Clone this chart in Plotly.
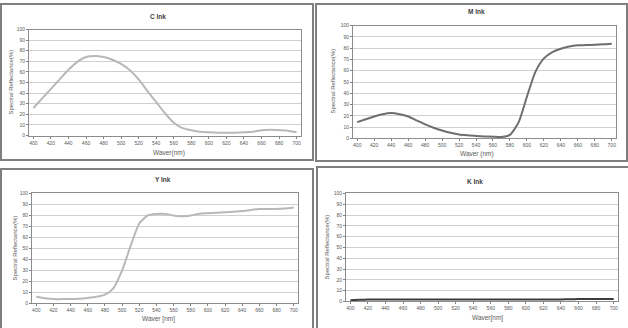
import plotly.graph_objects as go

W, H = 628, 328

wavelength = list(range(400, 701, 10))
tick_labels = list(range(400, 701, 20))
y_ticks = list(range(0, 101, 10))

c_ink = [26, 35, 44, 53, 62, 69.5, 74, 75, 74, 71.5, 67.5, 61.5, 53, 42, 31.5, 21,
         12, 7, 5, 3.5, 3, 2.7, 2.6, 2.7, 3, 3.5, 5, 5.5, 5, 4.5, 3]
m_ink = [14.5, 17, 19.5, 21.5, 22.5, 21.5, 19.5, 16, 12.5, 9.5, 7, 5, 3.5, 2.8, 2.3, 1.8,
         1.5, 1.3, 3.2, 14, 37, 59, 71, 76.5, 79.5, 81.5, 82.5, 82.7, 83, 83.4, 84]
y_ink = [6, 4.7, 3.9, 3.9, 3.9, 4.2, 5, 6, 8, 14, 30, 52.5, 72.7, 80, 81.3, 81.3,
         80, 79.2, 80, 81.6, 82, 82.4, 82.8, 83.4, 84, 85, 85.8, 85.8, 85.8, 86.3, 87.2]
k_ink = [1.2, 1.5, 1.8, 1.8, 1.8, 1.8, 1.8, 1.8, 1.8, 1.8, 1.8, 1.8, 1.8, 1.8, 1.8, 1.8,
         1.8, 1.8, 1.8, 1.8, 1.8, 1.8, 1.8, 1.8, 1.9, 2.0, 2.2, 2.2, 2.3, 2.3, 2.3]

titles = ["C Ink", "M Ink", "Y Ink", "K Ink"]
x_titles = ["Waver(nm)", "Waver (nm)", "Waver [nm]", "Waver[nm]"]
y_title = "Spectral Reflectance(%)"
series = [c_ink, m_ink, y_ink, k_ink]
colors = ["#b8b8b8", "#6e6e6e", "#b8b8b8", "#3c3c3c"]

# plot areas in pixels: (x0, x1, y0_top, y1_bottom)
areas = [(29, 301, 27, 135), (353, 616, 23, 138), (32, 298, 194, 306), (346, 618, 194, 304)]
# panel frames
frames = [(1, 1, 313, 160), (316, 1, 627, 161), (1, 169, 313, 340), (317, 167, 640, 340)]
# text positions
title_pos = [(158, 14), (476, 9), (163, 180), (475, 182)]
xlab_pos = [(169, 153), (477, 154), (158, 322), (487, 321)]
ylab_pos = [(11, 81), (333, 80), (15, 250), (327, 249)]

FONT = "Liberation Sans"
fig = go.Figure()
layout = dict(width=W, height=H, margin=dict(l=0, r=0, t=0, b=0),
              paper_bgcolor="white", plot_bgcolor="white", showlegend=False,
              font=dict(family=FONT, color="#595959"))
annotations = []
shapes = []

for i in range(4):
    x0, x1, yt, yb = areas[i]
    sfx = "" if i == 0 else str(i + 1)
    fig.add_trace(go.Scatter(x=wavelength, y=series[i], mode="lines",
                             line=dict(color=colors[i], width=2, shape="spline", smoothing=0.6),
                             xaxis="x" + sfx, yaxis="y" + sfx, hoverinfo="skip"))
    layout["xaxis" + sfx] = dict(domain=[x0 / W, x1 / W], anchor="y" + sfx,
                                 range=[395, 705], tickvals=tick_labels,
                                 ticks="outside", ticklen=2, tickcolor="#808080",
                                 tickfont=dict(size=5, color="#595959"),
                                 showgrid=False, zeroline=False,
                                 showline=True, linecolor="#8c8c8c", linewidth=1, mirror=True)
    layout["yaxis" + sfx] = dict(domain=[1 - yb / H, 1 - yt / H], anchor="x" + sfx,
                                 range=[0, 100], tickvals=y_ticks,
                                 ticks="outside", ticklen=2, tickcolor="#808080",
                                 tickfont=dict(size=5, color="#595959"),
                                 showgrid=True, gridcolor="#cfcfcf", gridwidth=1,
                                 zeroline=False,
                                 showline=True, linecolor="#8c8c8c", linewidth=1, mirror=True)
    annotations.append(dict(text="<b>" + titles[i] + "</b>", x=title_pos[i][0] / W,
                            y=1 - title_pos[i][1] / H, xref="paper", yref="paper",
                            showarrow=False, xanchor="center", yanchor="middle",
                            font=dict(size=6.5, color="#404040", family=FONT)))
    annotations.append(dict(text=x_titles[i], x=xlab_pos[i][0] / W,
                            y=1 - xlab_pos[i][1] / H, xref="paper", yref="paper",
                            showarrow=False, xanchor="center", yanchor="middle",
                            font=dict(size=6.5, color="#595959", family=FONT)))
    annotations.append(dict(text=y_title, x=ylab_pos[i][0] / W,
                            y=1 - ylab_pos[i][1] / H, xref="paper", yref="paper",
                            showarrow=False, xanchor="center", yanchor="middle", textangle=-90,
                            font=dict(size=6, color="#595959", family=FONT)))
    fx0, fy0, fx1, fy1 = frames[i]
    shapes.append(dict(type="rect", xref="paper", yref="paper",
                       x0=fx0 / W, x1=fx1 / W, y0=1 - fy1 / H, y1=1 - fy0 / H,
                       line=dict(color="#7f7f7f", width=2), fillcolor="rgba(0,0,0,0)",
                       layer="above"))

layout["annotations"] = annotations
layout["shapes"] = shapes
fig.update_layout(**layout)
fig.write_html("out.html")
